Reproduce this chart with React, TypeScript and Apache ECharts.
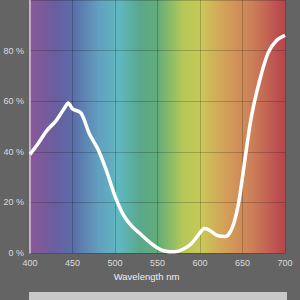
import React, { useEffect, useRef } from "react";
import * as echarts from "echarts";

const wavelengths = [400, 410, 420, 430, 440, 445, 450, 460, 470, 480, 490, 500, 510, 520, 530, 540, 550, 560, 570, 580, 590, 600, 605, 610, 620, 630, 635, 640, 645, 650, 660, 670, 680, 690, 700];
const reflectance = [39, 43.5, 48.5, 52, 57, 59.3, 57, 55.3, 47, 41, 32.5, 22.5, 15, 10.5, 7.5, 4.5, 2, 0.7, 0.5, 1.5, 3.8, 8, 9.7, 9.2, 7, 6.5, 8, 12, 19, 30, 53, 68, 79, 84, 86];
const spectrumStops: [number, string][] = [
  [0, "#8a5897"],
  [0.1, "#6a5ea0"],
  [0.17, "#5a6ea8"],
  [0.27, "#62a0bf"],
  [0.35, "#5fb8c0"],
  [0.43, "#5aa88c"],
  [0.5, "#62ac78"],
  [0.6, "#b4c858"],
  [0.67, "#cac858"],
  [0.77, "#d49e58"],
  [0.87, "#cc8058"],
  [0.97, "#bc5050"],
  [1, "#b44848"],
];

export default function App() {
  const ref = useRef<HTMLDivElement>(null);
  useEffect(() => {
    if (!ref.current) return;
    const chart = echarts.init(ref.current, null, { renderer: "svg" });
    chart.setOption({
      animation: false,
      backgroundColor: "#646464",
      textStyle: { fontFamily: "Liberation Sans, Arial, sans-serif" },
      grid: {
        left: 30,
        right: 15,
        top: -4,
        bottom: 47,
        show: true,
        borderWidth: 0,
        backgroundColor: new echarts.graphic.LinearGradient(
          0, 0, 1, 0,
          spectrumStops.map(([offset, color]) => ({ offset, color }))
        ),
      },
      xAxis: {
        type: "value",
        min: 400,
        max: 700,
        interval: 50,
        name: "Wavelength nm",
        nameLocation: "middle",
        nameGap: 17,
        nameTextStyle: { color: "#eeeeee", fontSize: 9.5, padding: [0, 22, 0, 0] },
        axisLine: { show: false },
        axisTick: { show: false },
        axisLabel: { color: "#dddddd", fontSize: 9, margin: 5 },
        splitLine: { show: true, lineStyle: { color: "rgba(0,0,0,0.2)", width: 1 } },
      },
      yAxis: {
        type: "value",
        min: 0,
        max: 100,
        interval: 20,
        axisLine: { show: true, lineStyle: { color: "rgba(255,235,255,0.8)", width: 1.5 } },
        axisTick: { show: false },
        axisLabel: {
          color: "#dddddd",
          fontSize: 9,
          margin: 6,
          formatter: (v: number) => (v >= 100 ? "" : v + " %"),
        },
        splitLine: { show: true, lineStyle: { color: "rgba(0,0,0,0.2)", width: 1 } },
      },
      series: [
        {
          type: "line",
          data: wavelengths.map((w, i) => [w, reflectance[i]]),
          smooth: 0.3,
          showSymbol: false,
          lineStyle: { color: "#ffffff", width: 3.5 },
        },
      ],
      graphic: [
        {
          type: "rect",
          shape: { x: 29, y: 292, width: 258, height: 20 },
          style: { fill: "#c8c8c8" },
        },
      ],
    });
    return () => chart.dispose();
  }, []);
  return <div ref={ref} style={{ position: "fixed", left: 0, top: 0, width: 300, height: 300 }} />;
}
